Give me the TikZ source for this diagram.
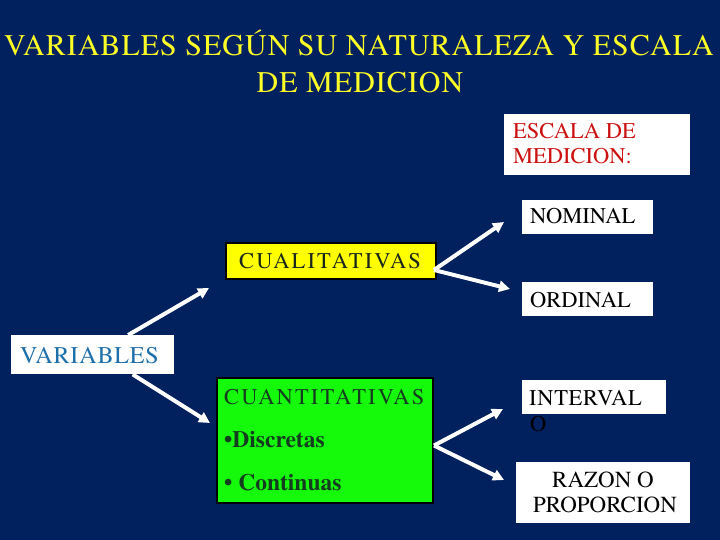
\documentclass[tikz,border=0pt]{standalone}
\usepackage{fontspec}
\setmainfont{TeX Gyre Termes}
\usetikzlibrary{arrows.meta}
\definecolor{navy}{RGB}{0,32,94}
\definecolor{ttlyellow}{RGB}{255,255,40}
\definecolor{escred}{RGB}{204,17,17}
\definecolor{varblue}{RGB}{30,110,170}
\definecolor{cualtext}{RGB}{25,40,25}
\definecolor{cuantext}{RGB}{20,60,30}
\definecolor{boxgreen}{RGB}{20,250,10}
\definecolor{boxyellow}{RGB}{255,255,0}
\begin{document}
\begin{tikzpicture}[x=1pt,y=-1pt,
  wbox/.style={fill=white,draw=none,inner sep=0pt,anchor=north west},
  cbox/.style={draw=black,line width=2pt,inner sep=0pt,anchor=north west},
  txt/.style={anchor=base west,inner sep=0pt,font=\fontsize{22.5}{27}\selectfont},
  ctxt/.style={anchor=base,inner sep=0pt,font=\fontsize{23}{27}\selectfont},
  ttl/.style={anchor=base,inner sep=0pt,text=ttlyellow,font=\fontsize{30}{36}\selectfont\addfontfeature{LetterSpace=3.4}},
  arr/.style={draw=white,line width=4pt,-{Triangle[length=11pt,width=11pt]}}]
\fill[navy] (0,0) rectangle (720,540);
\useasboundingbox (0,0) rectangle (720,540);
% title
\node[ttl] (title1) at (359,56) {VARIABLES SEGÚN SU NATURALEZA Y ESCALA};
\node[ttl] (title2) at (360,93) {DE MEDICION};
% boxes
\node[wbox,minimum width=186pt,minimum height=61pt] (esc) at (504,114) {};
\node[txt,text=escred] (esc1) at (513,139) {ESCALA DE};
\node[txt,text=escred] (esc2) at (513,164) {MEDICION:};
\node[wbox,minimum width=131pt,minimum height=34pt] (nom) at (522,200) {};
\node[txt] (nomt) at (530,224) {NOMINAL};
\node[wbox,minimum width=131pt,minimum height=34pt] (ord) at (522,282) {};
\node[txt] (ordt) at (530,307) {ORDINAL};
\node[cbox,fill=boxyellow,minimum width=210pt,minimum height=36pt] (cual) at (225,242) {};
\node[txt,text=cualtext,font=\fontsize{22.5}{27}\selectfont\addfontfeature{LetterSpace=9.5}] (cualt) at (239,268) {CUALITATIVAS};
\node[wbox,minimum width=163pt,minimum height=39pt] (var) at (11,335) {};
\node[txt,text=varblue,font=\fontsize{24}{28}\selectfont\addfontfeature{LetterSpace=3.6}] (vart) at (20,363) {VARIABLES};
\node[cbox,fill=boxgreen,minimum width=216pt,minimum height=125pt] (cuan) at (216,377) {};
\node[txt,text=cuantext,font=\fontsize{22.5}{27}\selectfont\addfontfeature{LetterSpace=9.5}] (cuant1) at (224,404) {CUANTITATIVAS};
\node[txt,text=cuantext,font=\fontsize{23.5}{28}\selectfont\bfseries] (cuant2) at (224,447) {•Discretas};
\node[txt,text=cuantext,font=\fontsize{23.5}{28}\selectfont\bfseries] (cuant3) at (224,490) {• Continuas};
\node[wbox,minimum width=144pt,minimum height=34pt] (int) at (522,380) {};
\node[txt,font=\fontsize{22.5}{27}\selectfont\addfontfeature{LetterSpace=3}] (intt1) at (529,405) {INTERVAL};
\node[txt] (intt2) at (530,431) {O};
\node[wbox,minimum width=174pt,minimum height=61pt] (raz) at (516,462) {};
\node[ctxt] (razt1) at (603,487) {RAZON O};
\node[ctxt] (razt2) at (605,512) {PROPORCION};
% arrow tips
\coordinate (t1) at (209,288);
\coordinate (t2) at (210,423);
\coordinate (t3) at (504,222);
\coordinate (t4) at (510,289);
\coordinate (t5) at (503,409);
\coordinate (t6) at (504,480);
\draw[arr] ([xshift=35.5pt]var.north) -- (t1);
\draw[arr] ([xshift=40pt]var.south) -- (t2);
\draw[arr] ([xshift=-3pt,yshift=-9pt]cual.east) -- (t3);
\draw[arr] ([xshift=-3pt,yshift=-9pt]cual.east) -- (t4);
\draw[arr] ([yshift=-5pt]cuan.east) -- (t5);
\draw[arr] ([yshift=-5pt]cuan.east) -- (t6);
\end{tikzpicture}
\end{document}
